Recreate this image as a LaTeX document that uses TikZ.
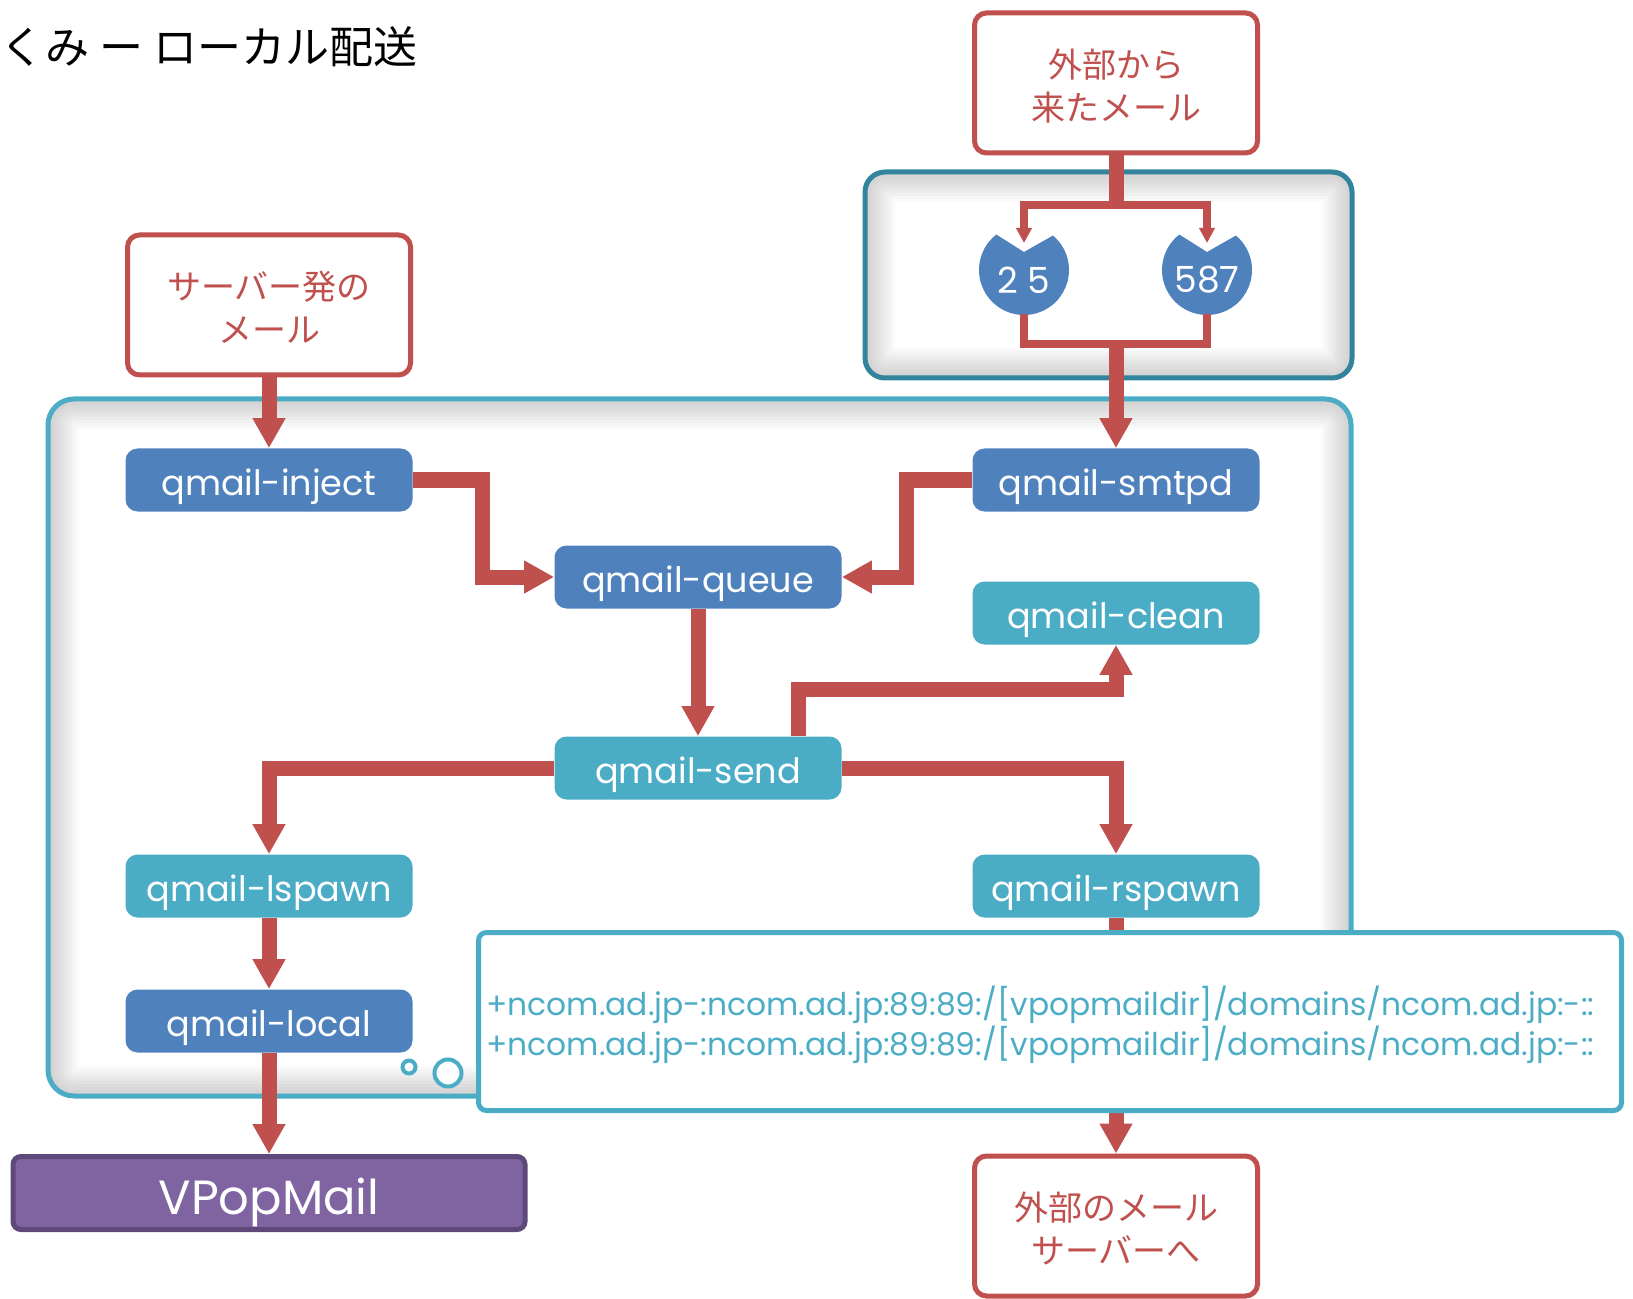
\documentclass[tikz,border=0pt]{standalone}
\usepackage{fontspec}
\setmainfont{Poppins}
\newfontfamily\jpfont{Noto Sans CJK JP}
\usepackage{graphicx}
\usetikzlibrary{arrows.meta,calc}

\definecolor{qred}{HTML}{C0504D}
\definecolor{qblue}{HTML}{4F81BD}
\definecolor{qaqua}{HTML}{4BACC6}
\definecolor{qteal}{HTML}{31849B}
\definecolor{qpurple}{HTML}{8064A2}
\definecolor{qpurpledk}{HTML}{5F497A}

\newcommand{\mailtext}[2]{\raisebox{-3.6pt}[\height][\depth]{\begin{tabular}{@{}c@{}}#1\\#2\end{tabular}}}

\tikzset{
  proc/.style={rounded corners=6pt, minimum width=143.5pt, minimum height=31.5pt,
    inner sep=0pt, text=white, text height=17pt, text depth=2pt,
    font=\fontsize{17.5}{20}\selectfont},
  core/.style={proc, fill=qblue},
  helper/.style={proc, fill=qaqua},
  mailbox/.style={draw=qred, line width=2.5pt, fill=white, rounded corners=6pt,
    minimum width=141.5pt, minimum height=70pt, text=qred, inner sep=0pt,
    font=\jpfont\fontsize{17}{21.5}\selectfont},
  flow/.style={qred, line width=7.5pt, -{Triangle[length=15pt,width=15.5pt]}},
  portflow/.style={qred, line width=4pt, -{Triangle[length=7.5pt,width=7.5pt]}},
  portline/.style={qred, line width=4pt},
  bubble/.style={circle, draw=qaqua, line width=2pt, fill=white, inner sep=0pt},
}

\begin{document}
\begin{tikzpicture}[x=0.5pt, y=-0.5pt]
  \useasboundingbox (0,0) rectangle (1633,1299);

  % containers
  \begin{scope}
    \clip[rounded corners=13pt] (48,399) rectangle (1351,1096);
    \foreach \w in {3,6,...,30}
      \draw[black, opacity=.018, line width=\w pt, rounded corners=13pt] (48,399) rectangle (1351,1096);
  \end{scope}
  \draw[qaqua, line width=2.5pt, rounded corners=13pt] (48,399) rectangle (1351,1096);
  \begin{scope}
    \clip[rounded corners=10pt] (865,172) rectangle (1352,378);
    \foreach \w in {3,6,...,30}
      \draw[black, opacity=.018, line width=\w pt, rounded corners=10pt] (865,172) rectangle (1352,378);
  \end{scope}
  \draw[qteal, line width=2.5pt, rounded corners=10pt] (865,172) rectangle (1352,378);

  \node[anchor=west, font=\jpfont\fontsize{22}{26}\selectfont] (title) at (-7,47) {くみ ー ローカル配送};

  % mail sources and sinks
  \node[mailbox] (ext)  at (1116,83)   {\mailtext{外部から}{来たメール}};
  \node[mailbox] (srv)  at (269,305)   {\mailtext{サーバー発の}{メール}};
  \node[mailbox] (dest) at (1116,1226) {\mailtext{外部のメール}{サーバーへ}};

  % ports
  \coordinate (c25)  at (1024,270);
  \coordinate (c587) at (1207,270);
  \foreach \c in {c25,c587}
    \fill[qblue] ($(\c)+(-50:45)$) -- ($(\c)+(0,-18)$) -- ($(\c)+(232:45)$)
      arc[start angle=232, end angle=-50, radius=45] -- cycle;
  \node[text=white, font=\fontsize{18}{20}\selectfont] (p25)  at ($(c25)+(0,10)$)  {2 5};
  \node[text=white, font=\fontsize{18}{20}\selectfont] (p587) at ($(c587)+(0,10)$) {587};
  \coordinate (split) at (1116,205);
  \coordinate (join)  at (1116,344);

  % qmail programs
  \node[core]   (inject) at (269,480)  {qmail-inject};
  \node[core]   (smtpd)  at (1116,480) {qmail-smtpd};
  \node[core]   (queue)  at (698,577)  {qmail-queue};
  \node[helper] (clean)  at (1116,613) {qmail-clean};
  \node[helper] (send)   at (698,768)  {qmail-send};
  \node[helper] (lspawn) at (269,886)  {qmail-lspawn};
  \node[helper] (rspawn) at (1116,886) {qmail-rspawn};
  \node[core]   (local)  at (269,1021) {qmail-local};
  \node[draw=qpurpledk, fill=qpurple, line width=2.5pt, rounded corners=4pt,
    minimum width=256pt, minimum height=36.5pt, inner sep=0pt, text=white,
    text height=22pt, text depth=1pt,
    font=\fontsize{24}{28}\selectfont] (vpop) at (269,1193) {VPopMail};

  % flows
  \draw[qred, line width=7.5pt] (ext.south) -- (split);
  \draw[portflow] (split) -| ($(c25)+(0,-27)$);
  \draw[portflow] (split) -| ($(c587)+(0,-27)$);
  \draw[portline] ($(c25)+(0,44)$) |- (join);
  \draw[portline] ($(c587)+(0,44)$) |- (join);
  \path[flow]
    (join)     edge (smtpd.north)
    (srv)      edge (inject)
    (queue)    edge (send)
    (lspawn)   edge (local)
    (local)    edge (vpop)
    (rspawn)   edge (dest);
  \draw[flow] (inject.east) -- ++(70,0) |- (queue.west);
  \draw[flow] (smtpd.west) -- ++(-66,0) |- (queue.east);
  \draw[flow] ($(send.north)+(100,0)$) -- ++(0,-47) -| (clean.south);
  \draw[flow] (send.west) -| (lspawn.north);
  \draw[flow] (send.east) -| (rspawn.north);

  % vpopmail assign note
  \node[draw=qaqua, line width=2.5pt, fill=white, rounded corners=4pt,
    minimum width=571.5pt, minimum height=89pt, inner sep=0pt, text=qaqua] (note) at (1050,1021.5)
    {\hspace*{-9.5pt}\raisebox{-2.1pt}[\height][\depth]{\resizebox{554pt}{!}{\fontsize{15}{16.5}\selectfont\begin{tabular}{@{}l@{}}
      +ncom.ad.jp-:ncom.ad.jp:89:89:/[vpopmaildir]/domains/ncom.ad.jp:-::\\
      +ncom.ad.jp-:ncom.ad.jp:89:89:/[vpopmaildir]/domains/ncom.ad.jp:-::
    \end{tabular}}}};
  \node[bubble, minimum size=6.5pt]  (b1) at (409,1067) {};
  \node[bubble, minimum size=13.5pt] (b2) at (448,1073) {};
\end{tikzpicture}
\end{document}
